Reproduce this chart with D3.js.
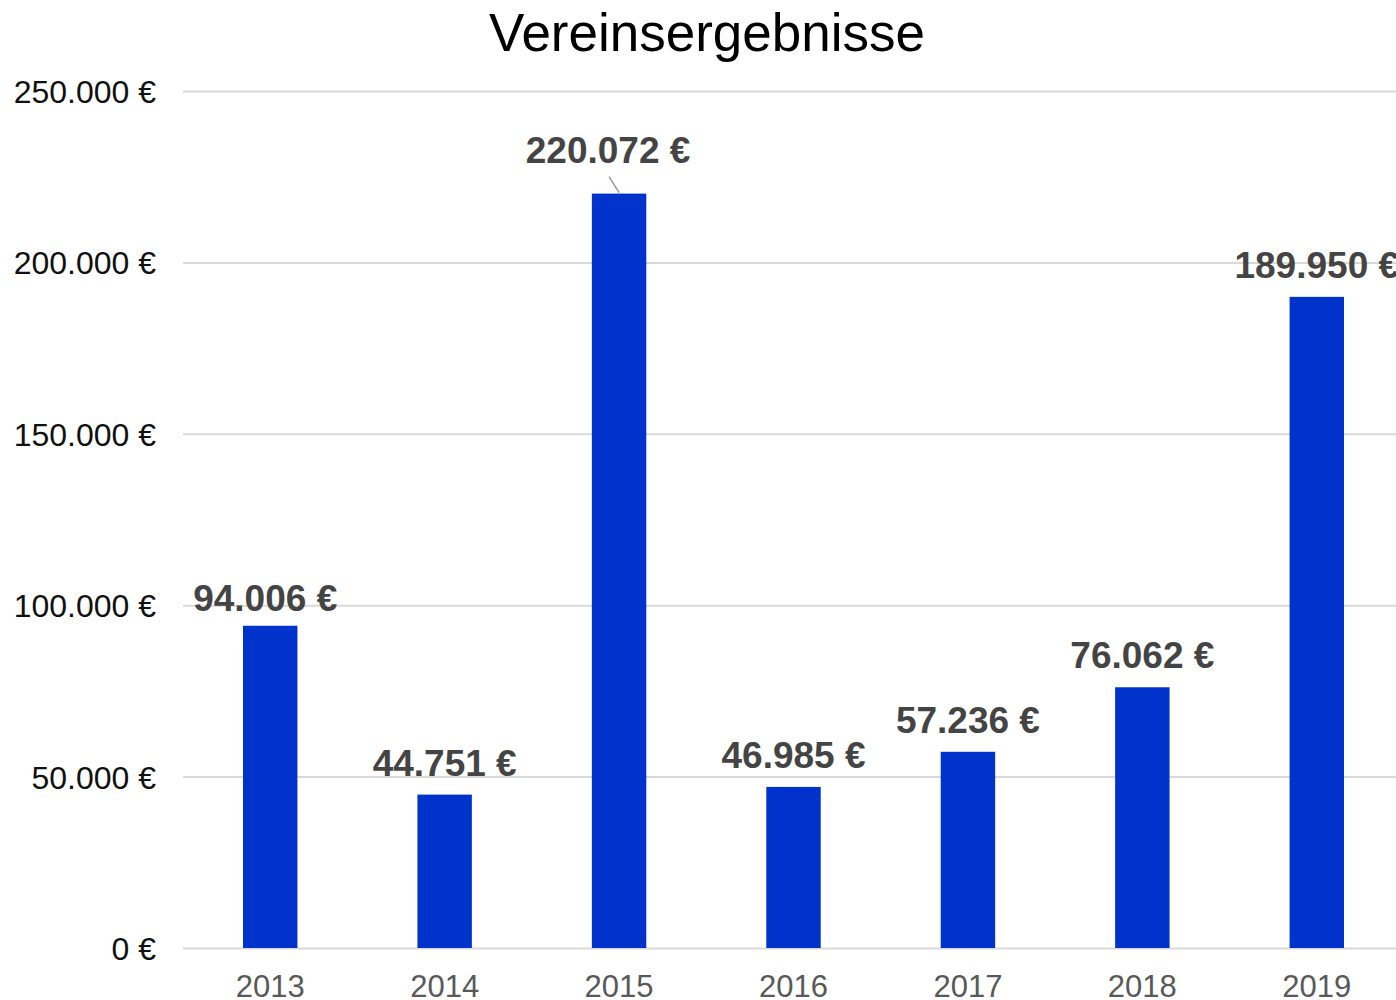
<!DOCTYPE html>
<html>
<head>
<meta charset="utf-8">
<script src="https://cdn.jsdelivr.net/npm/d3@7"></script>
<style>
  body { margin: 0; background: #fff; }
  svg { display: block; font-family: "Liberation Sans", Arial, sans-serif; }
</style>
</head>
<body>
<div id="chart"></div>
<script>
//Chart data
var years = ["2013", "2014", "2015", "2016", "2017", "2018", "2019"];
var results = [94006, 44751, 220072, 46985, 57236, 76062, 189950];
var yTicks = [0, 50000, 100000, 150000, 200000, 250000];
var chartTitle = "Vereinsergebnisse";

//Canvas size
var W = 1396, H = 1000;
var margin = {top: 91, right: -8, bottom: 52, left: 183};
var w = W - margin.left - margin.right,
    h = H - margin.top - margin.bottom;

//German number format: 94.006 €
var de = d3.formatLocale({decimal: ",", thousands: ".", grouping: [3], currency: ["", " €"]});
var fmt = function(v) { return de.format(",")(v) + " €"; };

//Scales
var xScale = d3.scaleBand().domain(years).range([0, w]).paddingInner(0.688).paddingOuter(0.344);
var yScale = d3.scaleLinear().domain([0, 250000]).range([h, 0]);

var svg = d3.select("#chart").append("svg")
    .attr("width", W)
    .attr("height", H);

//Title
svg.append("text")
    .attr("x", 707)
    .attr("y", 51)
    .attr("text-anchor", "middle")
    .attr("font-size", 53)
    .attr("fill", "#000")
    .text(chartTitle);

var g = svg.append("g")
    .attr("transform", "translate(" + margin.left + "," + margin.top + ")");

//Gridlines and y labels
var yAxis = d3.axisLeft(yScale)
    .tickValues(yTicks)
    .tickSize(-(W - margin.left))
    .tickPadding(27)
    .tickFormat(fmt);

g.append("g")
    .attr("class", "y-axis")
    .call(yAxis)
    .call(function(s) {
        s.select(".domain").remove();
        s.selectAll(".tick line").attr("stroke", "#d9d9d9").attr("stroke-width", 2);
        s.selectAll(".tick text")
            .attr("font-size", 32)
            .attr("fill", "#111")
            .attr("dy", "0.36em");
    });

//Bars
g.selectAll("rect.bar")
    .data(results)
    .enter()
    .append("rect")
    .attr("class", "bar")
    .attr("x", function(d, i) { return xScale(years[i]); })
    .attr("width", xScale.bandwidth())
    .attr("y", function(d) { return yScale(d); })
    .attr("height", function(d) { return h - yScale(d); })
    .attr("fill", "#0033cc");

//X axis labels
var xAxis = d3.axisBottom(xScale).tickSize(0).tickPadding(38);
g.append("g")
    .attr("class", "x-axis")
    .attr("transform", "translate(0," + h + ")")
    .call(xAxis)
    .call(function(s) {
        s.select(".domain").remove();
        s.selectAll(".tick text")
            .attr("font-size", 31)
            .attr("fill", "#595959")
            .attr("dy", "0.36em");
    });

//Value labels (2015 pushed up with a leader line)
var lifted = "2015";
var labelX = function(d, i) {
    var c = xScale(years[i]) + xScale.bandwidth() / 2;
    if (years[i] === lifted) return c - 11;
    if (years[i] === "2013") return c - 5;
    return c;
};
var labelY = function(d, i) {
    if (years[i] === lifted) return yScale(d) - 31;
    if (years[i] === "2013") return yScale(d) - 15;
    return yScale(d) - 19;
};

g.selectAll("line.leader")
    .data(results.filter(function(d, i) { return years[i] === lifted; }))
    .enter()
    .append("line")
    .attr("class", "leader")
    .attr("x1", xScale(lifted) + xScale.bandwidth() / 2 - 10)
    .attr("y1", function(d) { return yScale(d) - 17; })
    .attr("x2", xScale(lifted) + xScale.bandwidth() / 2)
    .attr("y2", function(d) { return yScale(d) - 1; })
    .attr("stroke", "#999")
    .attr("stroke-width", 1.5);

g.selectAll("text.value")
    .data(results)
    .enter()
    .append("text")
    .attr("class", "value")
    .attr("x", labelX)
    .attr("y", labelY)
    .attr("text-anchor", "middle")
    .attr("font-size", 37)
    .attr("font-weight", "bold")
    .attr("fill", "#444")
    .text(fmt);
</script>
</body>
</html>
